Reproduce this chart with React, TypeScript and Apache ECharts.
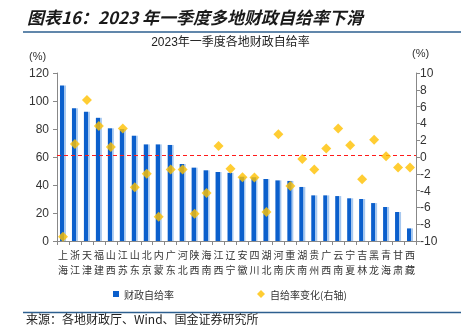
import React, { useEffect, useRef } from "react";
import * as echarts from "echarts";

const categories = ["上海","浙江","天津","福建","山西","江苏","山东","北京","内蒙","广东","河北","陕西","海南","江西","辽宁","安徽","四川","湖北","河南","重庆","湖南","贵州","广西","云南","宁夏","吉林","黑龙","青海","甘肃","西藏"];
const selfSufficiency = [111,94.8,92.4,88,80.5,80,75.2,69,69,68.6,55,52.4,50.5,49.3,48.7,45.9,45.5,44.3,43.3,42.9,38.6,32.6,32.6,32.1,30.5,30,27.1,24.3,20.7,9];
const changeRight = [-9.5,1.55,6.8,3.7,1.2,3.4,-3.6,-2.0,-7.1,-1.5,-1.5,-6.75,-4.3,1.3,-1.4,-2.4,-2.45,-6.55,2.7,-3.45,-0.25,-1.5,1.0,3.4,1.4,-2.65,2.05,0.1,-1.25,-1.25];
const averageLine = 61;
const leftTicks = { min: 0, max: 120, interval: 20 };
const rightTicks = { min: -10, max: 10, interval: 2 };

const FONT = "'Liberation Sans', 'Noto Sans CJK SC', sans-serif";
const CJK = "'Noto Sans CJK SC', sans-serif";

export default function App() {
  const ref = useRef<HTMLDivElement>(null);
  useEffect(() => {
    document.body.style.margin = "0";
    const chart = echarts.init(ref.current!, null, { renderer: "svg" });
    const barColor = new echarts.graphic.LinearGradient(0, 0, 1, 0, [
      { offset: 0, color: "#0b5fcc" },
      { offset: 0.68, color: "#0b5fcc" },
      { offset: 0.7, color: "#a7c8ef" },
      { offset: 1, color: "#a7c8ef" },
    ]);
    chart.setOption({
      animation: false,
      textStyle: { fontFamily: FONT },
      grid: { left: 57, right: 45, top: 73, bottom: 89, containLabel: false },
      graphic: [
        {
          type: "text", left: 27, top: 8,
          style: { text: "图表16：2023 年一季度多地财政自给率下滑", font: "italic bold 17px " + CJK, fill: "#1a1a1a" },
        },
        { type: "line", shape: { x1: 23, y1: 32, x2: 461, y2: 32 }, style: { stroke: "#2d5f8f", lineWidth: 1.5 } },
        {
          type: "text", left: "center", top: 36,
          style: { text: "2023年一季度各地财政自给率", font: "12px " + FONT, fill: "#222" },
        },
        { type: "text", left: 29, top: 50, style: { text: "(%)", font: "11px " + FONT, fill: "#333" } },
        { type: "text", left: 412, top: 47, style: { text: "(%)", font: "11px " + FONT, fill: "#333" } },
        { type: "line", shape: { x1: 23, y1: 312.5, x2: 461, y2: 312.5 }, style: { stroke: "#2d5f8f", lineWidth: 1.5 } },
        {
          type: "text", left: 26, top: 312,
          style: { text: "来源：各地财政厅、Wind、国金证券研究所", font: "12px " + CJK, fill: "#222" },
        },
      ],
      legend: [
        {
          left: 108, top: 284, itemWidth: 6, itemHeight: 6, itemGap: 4,
          textStyle: { fontSize: 10, color: "#333", fontFamily: CJK },
          data: [{ name: "财政自给率", icon: "rect", itemStyle: { color: "#0b5fcc" } }],
        },
        {
          left: 252, top: 284, itemWidth: 8, itemHeight: 8, itemGap: 4,
          textStyle: { fontSize: 10, color: "#333", fontFamily: CJK },
          data: [{ name: "自给率变化(右轴)", icon: "diamond", itemStyle: { color: "#FFC000" } }],
        },
      ],
      xAxis: {
        type: "category",
        data: categories,
        boundaryGap: true,
        axisLine: { lineStyle: { color: "#888" } },
        axisTick: { show: true, length: 4, lineStyle: { color: "#888" } },
        axisLabel: {
          interval: 0, fontSize: 10, color: "#333", lineHeight: 15, margin: 6, fontFamily: CJK,
          formatter: (v: string) => v.split("").join("\n"),
        },
      },
      yAxis: [
        {
          type: "value", ...leftTicks,
          axisLine: { show: true, lineStyle: { color: "#888" } },
          axisTick: { show: true, length: 4, lineStyle: { color: "#888" } },
          axisLabel: { fontSize: 12, color: "#333", margin: 8 },
          splitLine: { show: false },
        },
        {
          type: "value", ...rightTicks, position: "right",
          axisLine: { show: true, lineStyle: { color: "#888" } },
          axisTick: { show: true, length: 4, lineStyle: { color: "#888" } },
          axisLabel: { fontSize: 12, color: "#333", margin: 4 },
          splitLine: { show: false },
        },
      ],
      series: [
        {
          name: "财政自给率", type: "bar", data: selfSufficiency, barWidth: 6,
          itemStyle: { color: barColor },
          markLine: {
            silent: true, symbol: "none", label: { show: false },
            lineStyle: { color: "#ff1a1a", type: [4, 3], width: 1.2 },
            data: [{ yAxis: averageLine }],
          },
        },
        {
          name: "自给率变化(右轴)", type: "scatter", yAxisIndex: 1, data: changeRight,
          symbol: "diamond", symbolSize: 10, itemStyle: { color: "#FFC000" }, z: 5,
        },
      ],
    });
    return () => chart.dispose();
  }, []);
  return <div ref={ref} style={{ position: "fixed", left: 0, top: 0, width: 461, height: 330 }} />;
}
